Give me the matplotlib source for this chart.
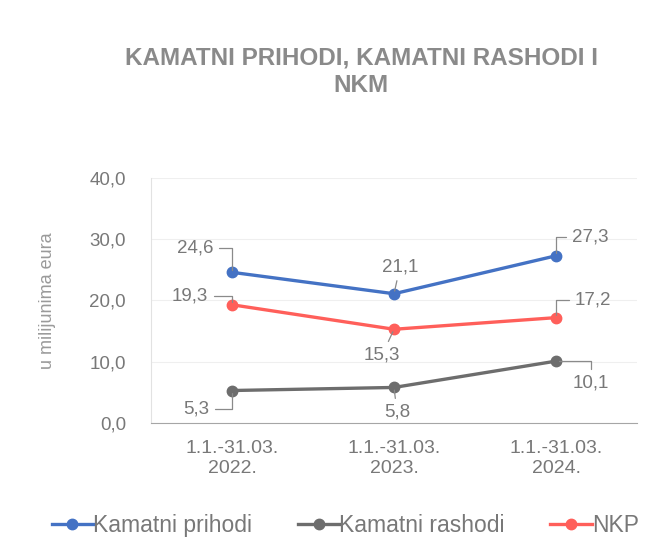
import matplotlib
matplotlib.use("Agg")
import matplotlib.pyplot as plt

plt.rcParams['font.family'] = ['Liberation Sans', 'DejaVu Sans']

# podaci (u milijunima eura)
periods = ['1.1.-31.03.\n2022.', '1.1.-31.03.\n2023.', '1.1.-31.03.\n2024.']
prihodi = [24.6, 21.1, 27.3]
rashodi = [5.3, 5.8, 10.1]
nkp = [19.3, 15.3, 17.2]
series_names = ['Kamatni prihodi', 'Kamatni rashodi', 'NKP']
y_ticks = [0, 10, 20, 30, 40]

text_col = '#787878'
colors = ['#4472c4', '#6d6d6d', '#ff5f5a']

# pomaci oznaka u pikselima (dx, dy) i stil spojnice
label_offsets = {
    0: [(-37, 24, 'hv'), (6, 27, 'line'), (34, 19, 'hv')],
    1: [(-36, -18, 'hv'), (3, -25, 'line'), (35, -22, 'vh')],
    2: [(-42, 9, 'hv'), (-12, -26, 'line'), (37, 18, 'hv')],
}

fig = plt.figure(figsize=(6.64, 5.42), dpi=100)
ax = fig.add_axes([0.2274, 0.2196, 0.732, 0.452])

x = list(range(len(periods)))
all_series = [prihodi, rashodi, nkp]
lines = []
for s, (vals, name, c) in enumerate(zip(all_series, series_names, colors)):
    ln, = ax.plot(x, vals, color=c, lw=2.4, marker='o', ms=7.5,
                  label=name, zorder=3)
    lines.append(ln)
    for i, v in enumerate(vals):
        dx, dy, style = label_offsets[s][i]
        if style == 'hv':
            cs = 'angle,angleA=0,angleB=90,rad=0'
        elif style == 'vh':
            cs = 'angle,angleA=90,angleB=0,rad=0'
        else:
            cs = 'arc3'
        ax.annotate(f'{v:.1f}'.replace('.', ','), xy=(i, v),
                    xytext=(dx, dy), textcoords='offset pixels',
                    ha='center', va='center', fontsize=13.5, color=text_col,
                    arrowprops=dict(arrowstyle='-', color='#8a8a8a', lw=0.9,
                                    connectionstyle=cs, shrinkA=2, shrinkB=2))

ax.set_xlim(-0.5, 2.5)
ax.set_ylim(0, 40)
ax.set_yticks(y_ticks)
ax.set_yticklabels([f'{t:.1f}'.replace('.', ',') for t in y_ticks],
                   fontsize=13.5, color=text_col)
ax.set_xticks(x)
ax.set_xticklabels(periods, fontsize=14, color=text_col, linespacing=1.25)
ax.tick_params(axis='both', length=0)
ax.tick_params(axis='x', pad=12)
ax.tick_params(axis='y', pad=18)
ax.grid(axis='y', color='#efefef', lw=0.8)
ax.set_axisbelow(True)
for side in ['top', 'right']:
    ax.spines[side].set_visible(False)
ax.spines['left'].set_color('#e2e2e2')
ax.spines['bottom'].set_color('#a6a6a6')

ax.set_ylabel('u milijunima eura', fontsize=13, color='#9a9a9a', labelpad=24)

fig.text(0.544, 0.867, 'KAMATNI PRIHODI, KAMATNI RASHODI I\nNKM',
         ha='center', va='center', fontsize=17.5, fontweight='bold',
         color='#8a8a8a', linespacing=1.25)

fig.legend(handles=lines, loc='center', bbox_to_anchor=(0.52, 0.03),
           ncol=3, frameon=False, fontsize=16.5, handlelength=1.8,
           handletextpad=0.0, columnspacing=2.0, labelcolor=text_col)

fig.savefig('out.png', dpi=100)
